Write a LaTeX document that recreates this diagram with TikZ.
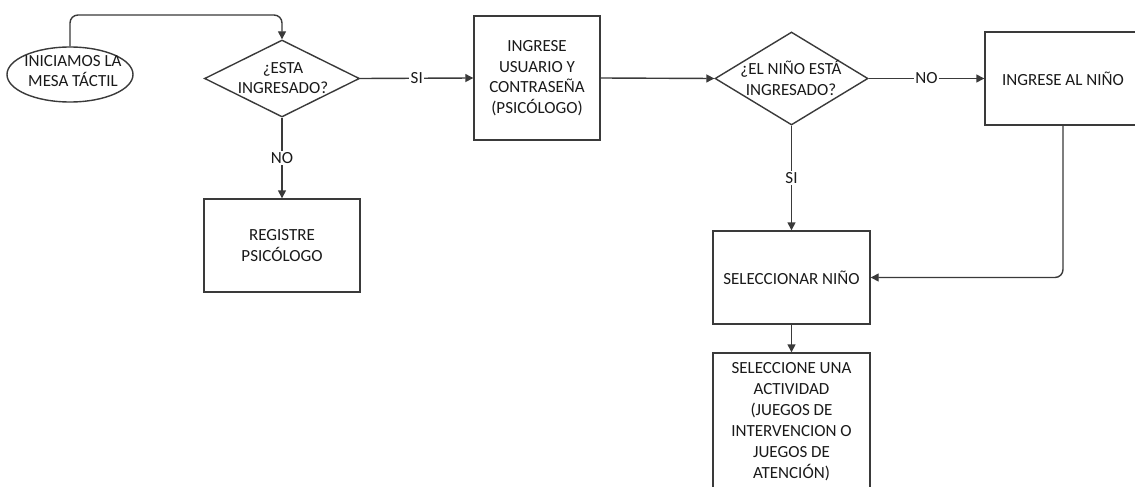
\documentclass[tikz,border=0pt]{standalone}
\usepackage{fontspec}
\setmainfont{Carlito}
\usetikzlibrary{shapes.geometric,arrows.meta}
\definecolor{edge}{HTML}{3A3A3A}
\definecolor{ink}{HTML}{1A1A1A}
\begin{document}
\begin{tikzpicture}[x=1pt,y=-1pt,
  every node/.style={text=ink,font=\fontsize{17}{20.5}\selectfont},
  box/.style={draw=edge,line width=1.4pt,fill=white,inner sep=0pt,align=center},
  decision/.style={draw=edge,line width=1.4pt,diamond,inner sep=0pt},
  terminal/.style={draw=edge,line width=1.4pt,ellipse,inner sep=0pt},
  caption/.style={align=center,inner sep=0pt},
  lbl/.style={fill=white,inner sep=1.5pt},
  arr/.style={draw=edge,line width=1.4pt,-{Triangle[length=8pt,width=8pt]}}]
\clip (0,0) rectangle (1135,487);
\fill[white] (0,0) rectangle (1135,487);

% start
\node[terminal,minimum width=126pt,minimum height=55pt] (e) at (70,74.5) {};
\node[caption] (et) at (73,71) {INICIAMOS LA\\MESA TÁCTIL};

% first decision
\node[decision,minimum width=155pt,minimum height=77pt] (d1) at (282,78.5) {};
\node[caption] (d1t) at (283,78) {¿ESTA\\INGRESADO?};

% login and registration
\node[box,minimum width=126pt,minimum height=124pt] (b2) at (537,78) {INGRESE\\USUARIO Y\\CONTRASEÑA\\(PSICÓLOGO)};
\node[box,minimum width=156pt,minimum height=93pt] (reg) at (282,245.5) {REGISTRE\\PSICÓLOGO};

% second decision
\node[decision,minimum width=153pt,minimum height=93pt] (d2) at (791.5,78.5) {};
\node[caption] (d2t) at (791,78) {¿EL NIÑO ESTÁ\\INGRESADO?};

% child handling
\node[box,minimum width=156pt,minimum height=93pt] (b3) at (1063,78.5) {INGRESE AL NIÑO};
\node[box,minimum width=157pt,minimum height=93pt] (b4) at (791.5,277.5) {SELECCIONAR NIÑO};
\node[box,minimum width=157pt,minimum height=137pt,
  font=\fontsize{17}{21}\selectfont] (b5) at (791.5,421.5)
  {SELECCIONE UNA\\ACTIVIDAD\\(JUEGOS DE\\INTERVENCION O\\JUEGOS DE\\ATENCIÓN)};

% connectors
\coordinate (top) at (282,15);
\draw[arr,rounded corners=8pt] (e.north) |- (top) -- (d1.north);
\draw[arr] (d1.east) -- node[lbl]{SI} (b2.west);
\draw[arr] (d1.south) -- node[lbl]{NO} (reg.north);
\draw[arr] (b2.east) -- (d2.west);
\draw[arr] (d2.east) -- node[lbl]{NO} (b3.west);
\draw[arr] (d2.south) -- node[lbl]{SI} (b4.north);
\draw[arr,rounded corners=8pt] (b3.south) |- (b4.east);
\draw[arr] (b4.south) -- (b5.north);
\end{tikzpicture}
\end{document}
